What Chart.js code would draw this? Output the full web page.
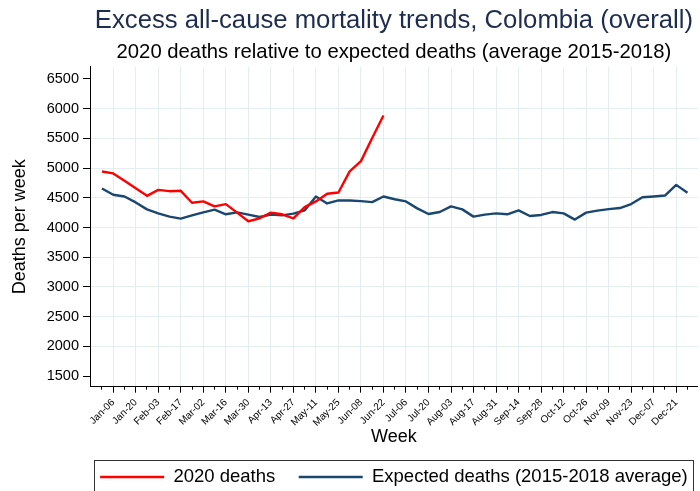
<!DOCTYPE html>
<html>
<head>
<meta charset="utf-8">
<script src="https://cdn.jsdelivr.net/npm/chart.js@4.4.1/dist/chart.umd.min.js"></script>
<style>
  html, body { margin: 0; padding: 0; background: #ffffff; }
  #wrap { width: 700px; height: 491px; }
</style>
</head>
<body>
<div id="wrap"><canvas id="c" width="700" height="491"></canvas></div>
<script>
// Week starting dates (Monday) for the 53 weekly observations
const weekLabels = [
  'Dec-30', 'Jan-06', 'Jan-13', 'Jan-20', 'Jan-27', 'Feb-03', 'Feb-10', 'Feb-17', 'Feb-24',
  'Mar-02', 'Mar-09', 'Mar-16', 'Mar-23', 'Mar-30', 'Apr-06', 'Apr-13', 'Apr-20', 'Apr-27',
  'May-04', 'May-11', 'May-18', 'May-25', 'Jun-01', 'Jun-08', 'Jun-15', 'Jun-22', 'Jun-29',
  'Jul-06', 'Jul-13', 'Jul-20', 'Jul-27', 'Aug-03', 'Aug-10', 'Aug-17', 'Aug-24', 'Aug-31',
  'Sep-07', 'Sep-14', 'Sep-21', 'Sep-28', 'Oct-05', 'Oct-12', 'Oct-19', 'Oct-26', 'Nov-02',
  'Nov-09', 'Nov-16', 'Nov-23', 'Nov-30', 'Dec-07', 'Dec-14', 'Dec-21', 'Dec-28'
];

// Registered deaths per week in 2020 (available through Jun-22)
const deaths2020 = [
  4943, 4910, 4788, 4660, 4533, 4633, 4611, 4617, 4417, 4439, 4355, 4394, 4250,
  4105, 4155, 4250, 4222, 4155, 4344, 4439, 4567, 4589, 4944, 5117, 5505, 5883
];

// Expected deaths per week: average of 2015-2018
const expectedDeaths = [
  4655, 4550, 4522, 4422, 4305, 4238, 4183, 4150, 4205, 4255, 4300, 4222, 4255,
  4217, 4177, 4217, 4205, 4233, 4288, 4522, 4405, 4455, 4455, 4444, 4427, 4522,
  4475, 4439, 4322, 4227, 4260, 4355, 4305, 4183, 4217, 4238, 4222, 4288, 4194,
  4211, 4260, 4238, 4133, 4250, 4283, 4310, 4327, 4394, 4510, 4522, 4538, 4717, 4583
];

const yTickValues = [1500, 2000, 2500, 3000, 3500, 4000, 4500, 5000, 5500, 6000, 6500];

const GRID = '#e4edf0';
const CLEAR = 'rgba(0,0,0,0)';
const X_MIN = -1.062, X_MAX = 52.92;

Chart.defaults.font.family = "'Liberation Sans', Arial, Helvetica, sans-serif";
Chart.defaults.color = '#000';

const weekTicks = (scale) => { scale.ticks = weekLabels.map((_, i) => ({ value: i })); };

// Legend entries; a wider gap follows the first entry
const legendItems = (chart) => {
  const items = Chart.defaults.plugins.legend.labels.generateLabels(chart);
  if (items.length) items[0].text += '\u2003';
  return items;
};

// Frame around the legend entries
const legendFrame = {
  id: 'legendFrame',
  afterDraw(chart) {
    const boxes = chart.legend && chart.legend.legendHitBoxes;
    if (!boxes || !boxes.length) return;
    const first = boxes[0], last = boxes[boxes.length - 1];
    const ctx = chart.ctx;
    const l = Math.round(first.left - 6.5) + 0.5;
    const t = Math.round(first.top - 7.5) + 0.5;
    const r = Math.round(last.left + last.width + 5) + 0.5;
    ctx.save();
    ctx.strokeStyle = '#333';
    ctx.lineWidth = 1;
    ctx.strokeRect(l, t, r - l, chart.height + 10 - t);
    ctx.restore();
  }
};

new Chart(document.getElementById('c'), {
  type: 'line',
  data: {
    datasets: [
      {
        label: '2020 deaths',
        data: deaths2020.map((v, i) => ({ x: i, y: v })),
        borderColor: '#ff0000',
        backgroundColor: '#ff0000',
        borderWidth: 2.4,
        pointRadius: 0,
        tension: 0,
        borderJoinStyle: 'round',
        xAxisID: 'x',
        yAxisID: 'y'
      },
      {
        label: 'Expected deaths (2015-2018 average)',
        data: expectedDeaths.map((v, i) => ({ x: i, y: v })),
        borderColor: '#1a476f',
        backgroundColor: '#1a476f',
        borderWidth: 2.4,
        pointRadius: 0,
        tension: 0,
        borderJoinStyle: 'round',
        xAxisID: 'x',
        yAxisID: 'y'
      }
    ]
  },
  options: {
    responsive: false,
    animation: false,
    devicePixelRatio: 1,
    layout: { padding: 0 },
    scales: {
      x: {
        type: 'linear',
        position: 'bottom',
        weight: 1,
        min: X_MIN,
        max: X_MAX,
        afterBuildTicks: weekTicks,
        afterFit: (s) => { s.height = 76.05; },
        ticks: {
          autoSkip: false,
          minRotation: 45,
          maxRotation: 45,
          padding: 4,
          font: { size: 10 },
          color: '#000',
          callback: (v) => (v % 2 === 1 ? weekLabels[v] : '')
        },
        grid: {
          color: (c) => (c.tick && c.tick.value % 2 === 1 ? GRID : CLEAR),
          tickColor: (c) => (c.tick && c.tick.value % 2 === 1 ? '#000' : CLEAR),
          tickLength: 6,
          lineWidth: 1
        },
        border: { color: '#000', width: 1 },
        title: {
          display: true,
          text: 'Week',
          color: '#000',
          font: { size: 18, lineHeight: 1 },
          padding: { top: 0, bottom: 16.25 }
        }
      },
      xMinor: {
        type: 'linear',
        position: 'bottom',
        weight: 0,
        min: X_MIN,
        max: X_MAX,
        afterBuildTicks: weekTicks,
        afterFit: (s) => { s.height = 0; },
        ticks: { display: false },
        grid: { drawOnChartArea: false, tickLength: 3, tickColor: '#000' },
        border: { display: false }
      },
      y: {
        type: 'linear',
        position: 'left',
        min: 1322,
        max: 6705,
        afterBuildTicks: (s) => { s.ticks = yTickValues.map((v) => ({ value: v })); },
        afterFit: (s) => { s.width = 90; },
        ticks: {
          font: { size: 14.5 },
          color: '#000',
          padding: 4,
          callback: (v) => String(v)
        },
        grid: {
          color: (c) => (c.tick && (c.tick.value === 1500 || c.tick.value === 6500) ? CLEAR : GRID),
          tickColor: '#000',
          tickLength: 7,
          lineWidth: 1
        },
        border: { color: '#000', width: 1 },
        title: {
          display: true,
          text: 'Deaths per week',
          color: '#000',
          font: { size: 18 },
          padding: { top: 9.7, bottom: 0 }
        }
      }
    },
    plugins: {
      title: {
        display: true,
        text: 'Excess all-cause mortality trends, Colombia (overall)',
        fullSize: false,
        color: '#1e2d4f',
        font: { size: 25.7, weight: 'normal' },
        padding: { top: 5, bottom: 0 }
      },
      subtitle: {
        display: true,
        text: '2020 deaths relative to expected deaths (average 2015-2018)',
        fullSize: false,
        color: '#000',
        font: { size: 20.3, weight: 'normal' },
        padding: { top: 4.5, bottom: 2 }
      },
      legend: {
        position: 'bottom',
        fullSize: false,
        maxHeight: 28.25,
        labels: {
          usePointStyle: true,
          pointStyle: 'line',
          pointStyleWidth: 64,
          font: { size: 18.5 },
          color: '#000',
          padding: 5,
          generateLabels: legendItems
        }
      },
      tooltip: { enabled: false }
    }
  },
  plugins: [legendFrame]
});
</script>
</body>
</html>
